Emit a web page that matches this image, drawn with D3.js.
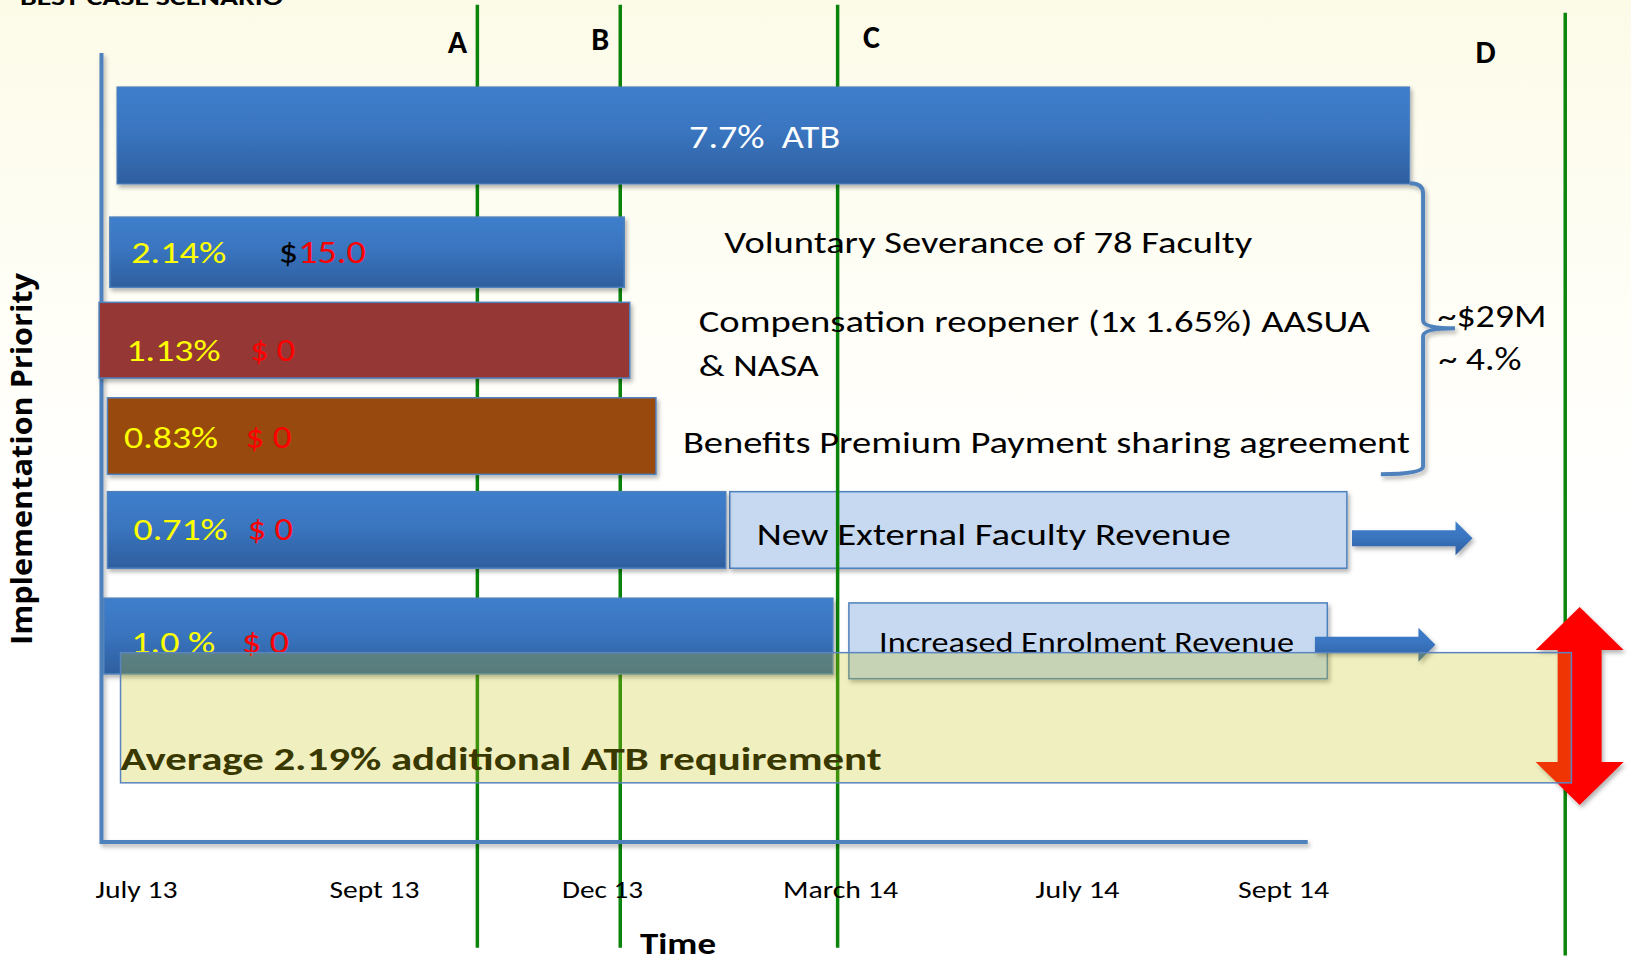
<!DOCTYPE html>
<html>
<head>
<meta charset="utf-8">
<script src="https://cdn.jsdelivr.net/npm/d3@7"></script>
<style>
  html, body { margin: 0; padding: 0; background: #fff; overflow: hidden; }
  svg { display: block; font-family: Carlito, Calibri, Lato, sans-serif; }
</style>
</head>
<body>
<div id="chart"></div>
<script>
// time axis: months counted from July 2013
const tickLabels = ['July 13', 'Sept 13', 'Dec 13', 'March 14', 'July 14', 'Sept 14'];
const tickMonths = [0, 2, 5, 8, 12, 14];

// milestones A-D
const milestones = ['A', 'B', 'C', 'D'];
const milestoneMonth = [3.36, 5.23, 7.97, 16.74];
const milestoneFrom = [-0.61, -0.61, -0.61, -0.51];
const milestoneTo = [11.34, 11.34, 11.34, 11.44];
const milestoneLabelAt = [2.97, 4.86, 8.39, 15.87];
const milestoneLabelRow = [0.0, -0.04, -0.06, 0.13];

// across the board increase (top bar)
const atbLabel = '7.7%  ATB';
const atbStart = -0.16, atbEnd = 15.23, atbTop = 0.43, atbBottom = 1.66;

// initiatives in implementation priority (rows are counted down the chart)
const itemPct = ['2.14%', '1.13%', '0.83%', '0.71%', '1.0 %'];
const itemDollar = ['$15.0', '$ 0', '$ 0', '$ 0', '$ 0'];
const itemStart = [-0.22, -0.31, -0.24, -0.24, -0.27];
const itemEnd = [5.28, 5.35, 5.68, 6.56, 7.91];
const itemTop = [2.08, 3.16, 4.37, 5.56, 6.91];
const itemBottom = [2.97, 4.12, 5.34, 6.53, 7.87];
const itemPctAt = [-0.04, -0.08, -0.10, -0.02, -0.04];
const itemDollarAt = [1.20, 0.96, 0.92, 0.94, 0.89];
const itemTextRow = [2.66, 3.90, 5.01, 6.17, 7.60];

// notes beside the first three bars
const noteLines = [['Voluntary Severance of 78 Faculty'],
                   ['Compensation reopener (1x 1.65%) AASUA', '& NASA'],
                   ['Benefits Premium Payment sharing agreement']];
const noteAt = [6.54, 6.22, 6.02];
const noteRows = [[2.535], [3.536, 4.094], [5.07]];

// new revenue streams
const revLabels = ['New External Faculty Revenue', 'Increased Enrolment Revenue'];
const revStart = [6.61, 8.15];
const revEnd = [14.62, 14.43];
const revTop = [5.56, 6.97];
const revBottom = [6.53, 7.93];
const revTextAt = [6.95, 8.66];
const revTextRow = [6.236, 7.592];
const revArrowStart = [14.67, 14.31];
const revArrowEnd = [15.84, 15.48];
const revArrowRow = [6.15, 7.50];

// bracket total for the first three initiatives
const totalLines = ['~$29M', '~ 4.%'];
const totalAt = [15.50, 15.51];
const totalRows = [3.473, 4.018];
const braceTop = 1.65, braceMid = 3.49, braceBottom = 5.34;

// average requirement band
const avgLabel = 'Average 2.19% additional ATB requirement';
const avgStart = -0.13, avgEnd = 16.80, avgTop = 7.60, avgBottom = 9.25;
const avgTextRow = 9.087;
const avgLine = 8.29;
const gapArrowAt = 16.88, gapArrowTop = 7.02, gapArrowBottom = 9.53;

const W = 1631, H = 963;

const x = d3.scaleLinear()
    .domain(tickMonths)
    .range([136, 374, 602, 840, 1077, 1283]);
const y = d3.scaleLinear()
    .domain([0, 10])
    .range([53, 842]);

const svg = d3.select('#chart').append('svg')
    .attr('width', W)
    .attr('height', H);

const defs = svg.append('defs');

let bg = defs.append('linearGradient').attr('id', 'bg')
    .attr('x1', 0).attr('y1', 0).attr('x2', 0).attr('y2', 1);
bg.append('stop').attr('offset', '0%').attr('stop-color', '#fcfbe8');
bg.append('stop').attr('offset', '30%').attr('stop-color', '#fffef6');
bg.append('stop').attr('offset', '55%').attr('stop-color', '#ffffff');

let blue = defs.append('linearGradient').attr('id', 'blue')
    .attr('x1', 0).attr('y1', 0).attr('x2', 0).attr('y2', 1);
blue.append('stop').attr('offset', '0%').attr('stop-color', '#3e7ecb');
blue.append('stop').attr('offset', '45%').attr('stop-color', '#3a75c0');
blue.append('stop').attr('offset', '100%').attr('stop-color', '#2e5f9f');

let shadow = defs.append('filter').attr('id', 'shadow')
    .attr('x', '-5%').attr('y', '-20%').attr('width', '115%').attr('height', '150%');
shadow.append('feDropShadow')
    .attr('dx', 2).attr('dy', 3).attr('stdDeviation', 2)
    .attr('flood-color', '#000').attr('flood-opacity', 0.3);

svg.append('rect')
    .attr('width', W).attr('height', H)
    .attr('fill', 'url(#bg)');

// title, mostly cut off by the top edge (as in the slide)
svg.append('text')
    .attr('x', 20).attr('y', 5)
    .attr('font-size', 22).attr('font-weight', 'bold')
    .attr('textLength', 263).attr('lengthAdjust', 'spacingAndGlyphs')
    .text('BEST CASE SCENARIO');

// revenue boxes (behind the milestone lines)
const rev = svg.append('g');
rev.selectAll('rect')
    .data(revLabels)
    .enter()
    .append('rect')
    .attr('x', (d, i) => x(revStart[i]))
    .attr('y', (d, i) => y(revTop[i]))
    .attr('width', (d, i) => x(revEnd[i]) - x(revStart[i]))
    .attr('height', (d, i) => y(revBottom[i]) - y(revTop[i]))
    .attr('fill', '#c6d9f1')
    .attr('stroke', '#4f81bd')
    .attr('stroke-width', 1.5)
    .attr('filter', 'url(#shadow)');

// milestone lines
svg.append('g').selectAll('line')
    .data(milestones)
    .enter()
    .append('line')
    .attr('x1', (d, i) => x(milestoneMonth[i]))
    .attr('x2', (d, i) => x(milestoneMonth[i]))
    .attr('y1', (d, i) => y(milestoneFrom[i]))
    .attr('y2', (d, i) => y(milestoneTo[i]))
    .attr('stroke', '#0b840b')
    .attr('stroke-width', 3.5);

svg.append('g').selectAll('text')
    .data(milestones)
    .enter()
    .append('text')
    .attr('x', (d, i) => x(milestoneLabelAt[i]))
    .attr('y', (d, i) => y(milestoneLabelRow[i]))
    .attr('font-size', 32)
    .attr('font-weight', 'bold')
    .attr('fill', '#000')
    .text(d => d);

// axis frame
svg.append('path')
    .attr('d', d3.line()([[x(-0.29), y(0)], [x(-0.29), y(10)], [x(14.24), y(10)]]))
    .attr('fill', 'none')
    .attr('stroke', '#4f81bd')
    .attr('stroke-width', 4)
    .attr('filter', 'url(#shadow)');

// time axis labels
const xAxis = svg.append('g')
    .attr('transform', 'translate(0,880)')
    .call(d3.axisBottom(x)
        .tickValues(tickMonths)
        .tickFormat((d, i) => tickLabels[i])
        .tickSize(0)
        .tickPadding(0));
xAxis.select('.domain').remove();
const tickWidths = [82, 90, 81, 115, 84, 91];
xAxis.selectAll('text')
    .attr('font-size', 25)
    .attr('font-family', 'Carlito, Calibri, Lato, sans-serif')
    .attr('fill', '#000')
    .attr('textLength', (d, i) => tickWidths[i])
    .attr('lengthAdjust', 'spacingAndGlyphs');

svg.append('text')
    .attr('x', 678).attr('y', 954)
    .attr('text-anchor', 'middle')
    .attr('font-size', 31).attr('font-weight', 'bold')
    .attr('textLength', 76).attr('lengthAdjust', 'spacingAndGlyphs')
    .text('Time');

svg.append('text')
    .attr('transform', 'translate(32,459) rotate(-90)')
    .attr('text-anchor', 'middle')
    .attr('font-family', '"Open Sans", sans-serif')
    .attr('font-size', 29).attr('font-weight', 'bold')
    .attr('textLength', 372).attr('lengthAdjust', 'spacingAndGlyphs')
    .text('Implementation Priority');

// ATB bar
svg.append('rect')
    .attr('x', x(atbStart))
    .attr('y', y(atbTop))
    .attr('width', x(atbEnd) - x(atbStart))
    .attr('height', y(atbBottom) - y(atbTop))
    .attr('fill', 'url(#blue)')
    .attr('stroke', '#4f81bd')
    .attr('stroke-width', 1)
    .attr('filter', 'url(#shadow)');
svg.append('text')
    .attr('x', x(7.05)).attr('y', y(1.204))
    .attr('text-anchor', 'middle')
    .attr('font-size', 32).attr('fill', '#fff')
    .attr('textLength', 151).attr('lengthAdjust', 'spacingAndGlyphs')
    .style('white-space', 'pre')
    .text(atbLabel);

// initiative bars
const itemFill = ['url(#blue)', '#953735', '#984807', 'url(#blue)', 'url(#blue)'];
svg.append('g').selectAll('rect')
    .data(itemPct)
    .enter()
    .append('rect')
    .attr('x', (d, i) => x(itemStart[i]))
    .attr('y', (d, i) => y(itemTop[i]))
    .attr('width', (d, i) => x(itemEnd[i]) - x(itemStart[i]))
    .attr('height', (d, i) => y(itemBottom[i]) - y(itemTop[i]))
    .attr('fill', (d, i) => itemFill[i])
    .attr('stroke', '#4f81bd')
    .attr('stroke-width', 1.5)
    .attr('filter', 'url(#shadow)');

const pctWidths = [95, 94, 94, 94, 84];
svg.append('g').selectAll('text')
    .data(itemPct)
    .enter()
    .append('text')
    .attr('x', (d, i) => x(itemPctAt[i]))
    .attr('y', (d, i) => y(itemTextRow[i]))
    .attr('font-size', 31)
    .attr('fill', '#ffff00')
    .attr('textLength', (d, i) => pctWidths[i])
    .attr('lengthAdjust', 'spacingAndGlyphs')
    .text(d => d);

const dollarWidths = [87, 45, 46, 45, 47];
const dollarText = svg.append('g').selectAll('text')
    .data(itemDollar)
    .enter()
    .append('text')
    .attr('x', (d, i) => x(itemDollarAt[i]))
    .attr('y', (d, i) => y(itemTextRow[i]))
    .attr('font-size', 32)
    .attr('fill', '#ff0000')
    .attr('textLength', (d, i) => dollarWidths[i])
    .attr('lengthAdjust', 'spacingAndGlyphs')
    .style('white-space', 'pre');
dollarText.append('tspan')
    .attr('fill', (d, i) => i === 0 ? '#000' : '#ff0000')
    .text(d => d.slice(0, 1));
dollarText.append('tspan')
    .text(d => d.slice(1));

// notes
const noteWidths = [[528], [671, 120], [727]];
noteLines.forEach((lines, i) => {
    svg.append('g').selectAll('text')
        .data(lines)
        .enter()
        .append('text')
        .attr('x', x(noteAt[i]))
        .attr('y', (d, j) => y(noteRows[i][j]))
        .attr('font-size', 30)
        .attr('fill', '#000')
        .attr('textLength', (d, j) => noteWidths[i][j])
        .attr('lengthAdjust', 'spacingAndGlyphs')
        .text(d => d);
});

// revenue labels and arrows
const revWidths = [474, 415];
svg.append('g').selectAll('text')
    .data(revLabels)
    .enter()
    .append('text')
    .attr('x', (d, i) => x(revTextAt[i]))
    .attr('y', (d, i) => y(revTextRow[i]))
    .attr('font-size', (d, i) => i === 0 ? 30 : 28)
    .attr('fill', '#000')
    .attr('textLength', (d, i) => revWidths[i])
    .attr('lengthAdjust', 'spacingAndGlyphs')
    .text(d => d);

const shaft = 8, head = 17;
svg.append('g').selectAll('path')
    .data(revLabels)
    .enter()
    .append('path')
    .attr('d', (d, i) => {
        let x0 = x(revArrowStart[i]), x1 = x(revArrowEnd[i]), cy = y(revArrowRow[i]);
        return d3.line()([
            [x0, cy - shaft], [x1 - head, cy - shaft], [x1 - head, cy - head],
            [x1, cy], [x1 - head, cy + head], [x1 - head, cy + shaft], [x0, cy + shaft]
        ]) + 'Z';
    })
    .attr('fill', 'url(#blue)')
    .attr('filter', 'url(#shadow)');

// bracket
const bx0 = x(15.23), bs = x(15.36), bt = x(15.67), bx1 = x(14.95);
const bp = d3.path();
bp.moveTo(bx0, y(braceTop));
bp.quadraticCurveTo(bs, y(braceTop), bs, y(braceTop) + 10);
bp.lineTo(bs, y(braceMid) - 8);
bp.quadraticCurveTo(bs, y(braceMid), bt, y(braceMid));
bp.quadraticCurveTo(bs, y(braceMid), bs, y(braceMid) + 8);
bp.lineTo(bs, y(braceBottom) - 8);
bp.quadraticCurveTo(bs, y(braceBottom), bx1, y(braceBottom));
svg.append('path')
    .attr('d', bp.toString())
    .attr('fill', 'none')
    .attr('stroke', '#4f81bd')
    .attr('stroke-width', 4)
    .attr('filter', 'url(#shadow)');

const totalWidths = [109, 83];
svg.append('g').selectAll('text')
    .data(totalLines)
    .enter()
    .append('text')
    .attr('x', (d, i) => x(totalAt[i]))
    .attr('y', (d, i) => y(totalRows[i]))
    .attr('font-size', 32)
    .attr('fill', '#000')
    .attr('textLength', (d, i) => totalWidths[i])
    .attr('lengthAdjust', 'spacingAndGlyphs')
    .style('white-space', 'pre')
    .text(d => d);

// red double arrow (gap)
const ah = 44, as = 22;
const gx = x(gapArrowAt), gt = y(gapArrowTop), gb = y(gapArrowBottom);
svg.append('path')
    .attr('d', d3.line()([
        [gx, gt], [gx + ah, gt + 43], [gx + as, gt + 43], [gx + as, gb - 43],
        [gx + ah, gb - 43], [gx, gb], [gx - ah, gb - 43], [gx - as, gb - 43],
        [gx - as, gt + 43], [gx - ah, gt + 43]
    ]) + 'Z')
    .attr('fill', '#ff0000')
    .attr('filter', 'url(#shadow)');

// dashed average line
svg.append('line')
    .attr('x1', x(-0.24)).attr('x2', W)
    .attr('y1', y(avgLine)).attr('y2', y(avgLine))
    .attr('stroke', '#ff0000')
    .attr('stroke-width', 5)
    .attr('stroke-dasharray', '23 19')
    .attr('filter', 'url(#shadow)');

// average requirement band
svg.append('rect')
    .attr('x', x(avgStart))
    .attr('y', y(avgTop))
    .attr('width', x(avgEnd) - x(avgStart))
    .attr('height', y(avgBottom) - y(avgTop))
    .attr('fill', '#c8c314')
    .attr('fill-opacity', 0.27)
    .attr('stroke', '#5a84c0')
    .attr('stroke-width', 1.5);

svg.append('text')
    .attr('x', x(avgStart)).attr('y', y(avgTextRow))
    .attr('font-size', 32).attr('font-weight', 'bold')
    .attr('fill', '#393800')
    .attr('textLength', 761).attr('lengthAdjust', 'spacingAndGlyphs')
    .text(avgLabel);
</script>
</body>
</html>
